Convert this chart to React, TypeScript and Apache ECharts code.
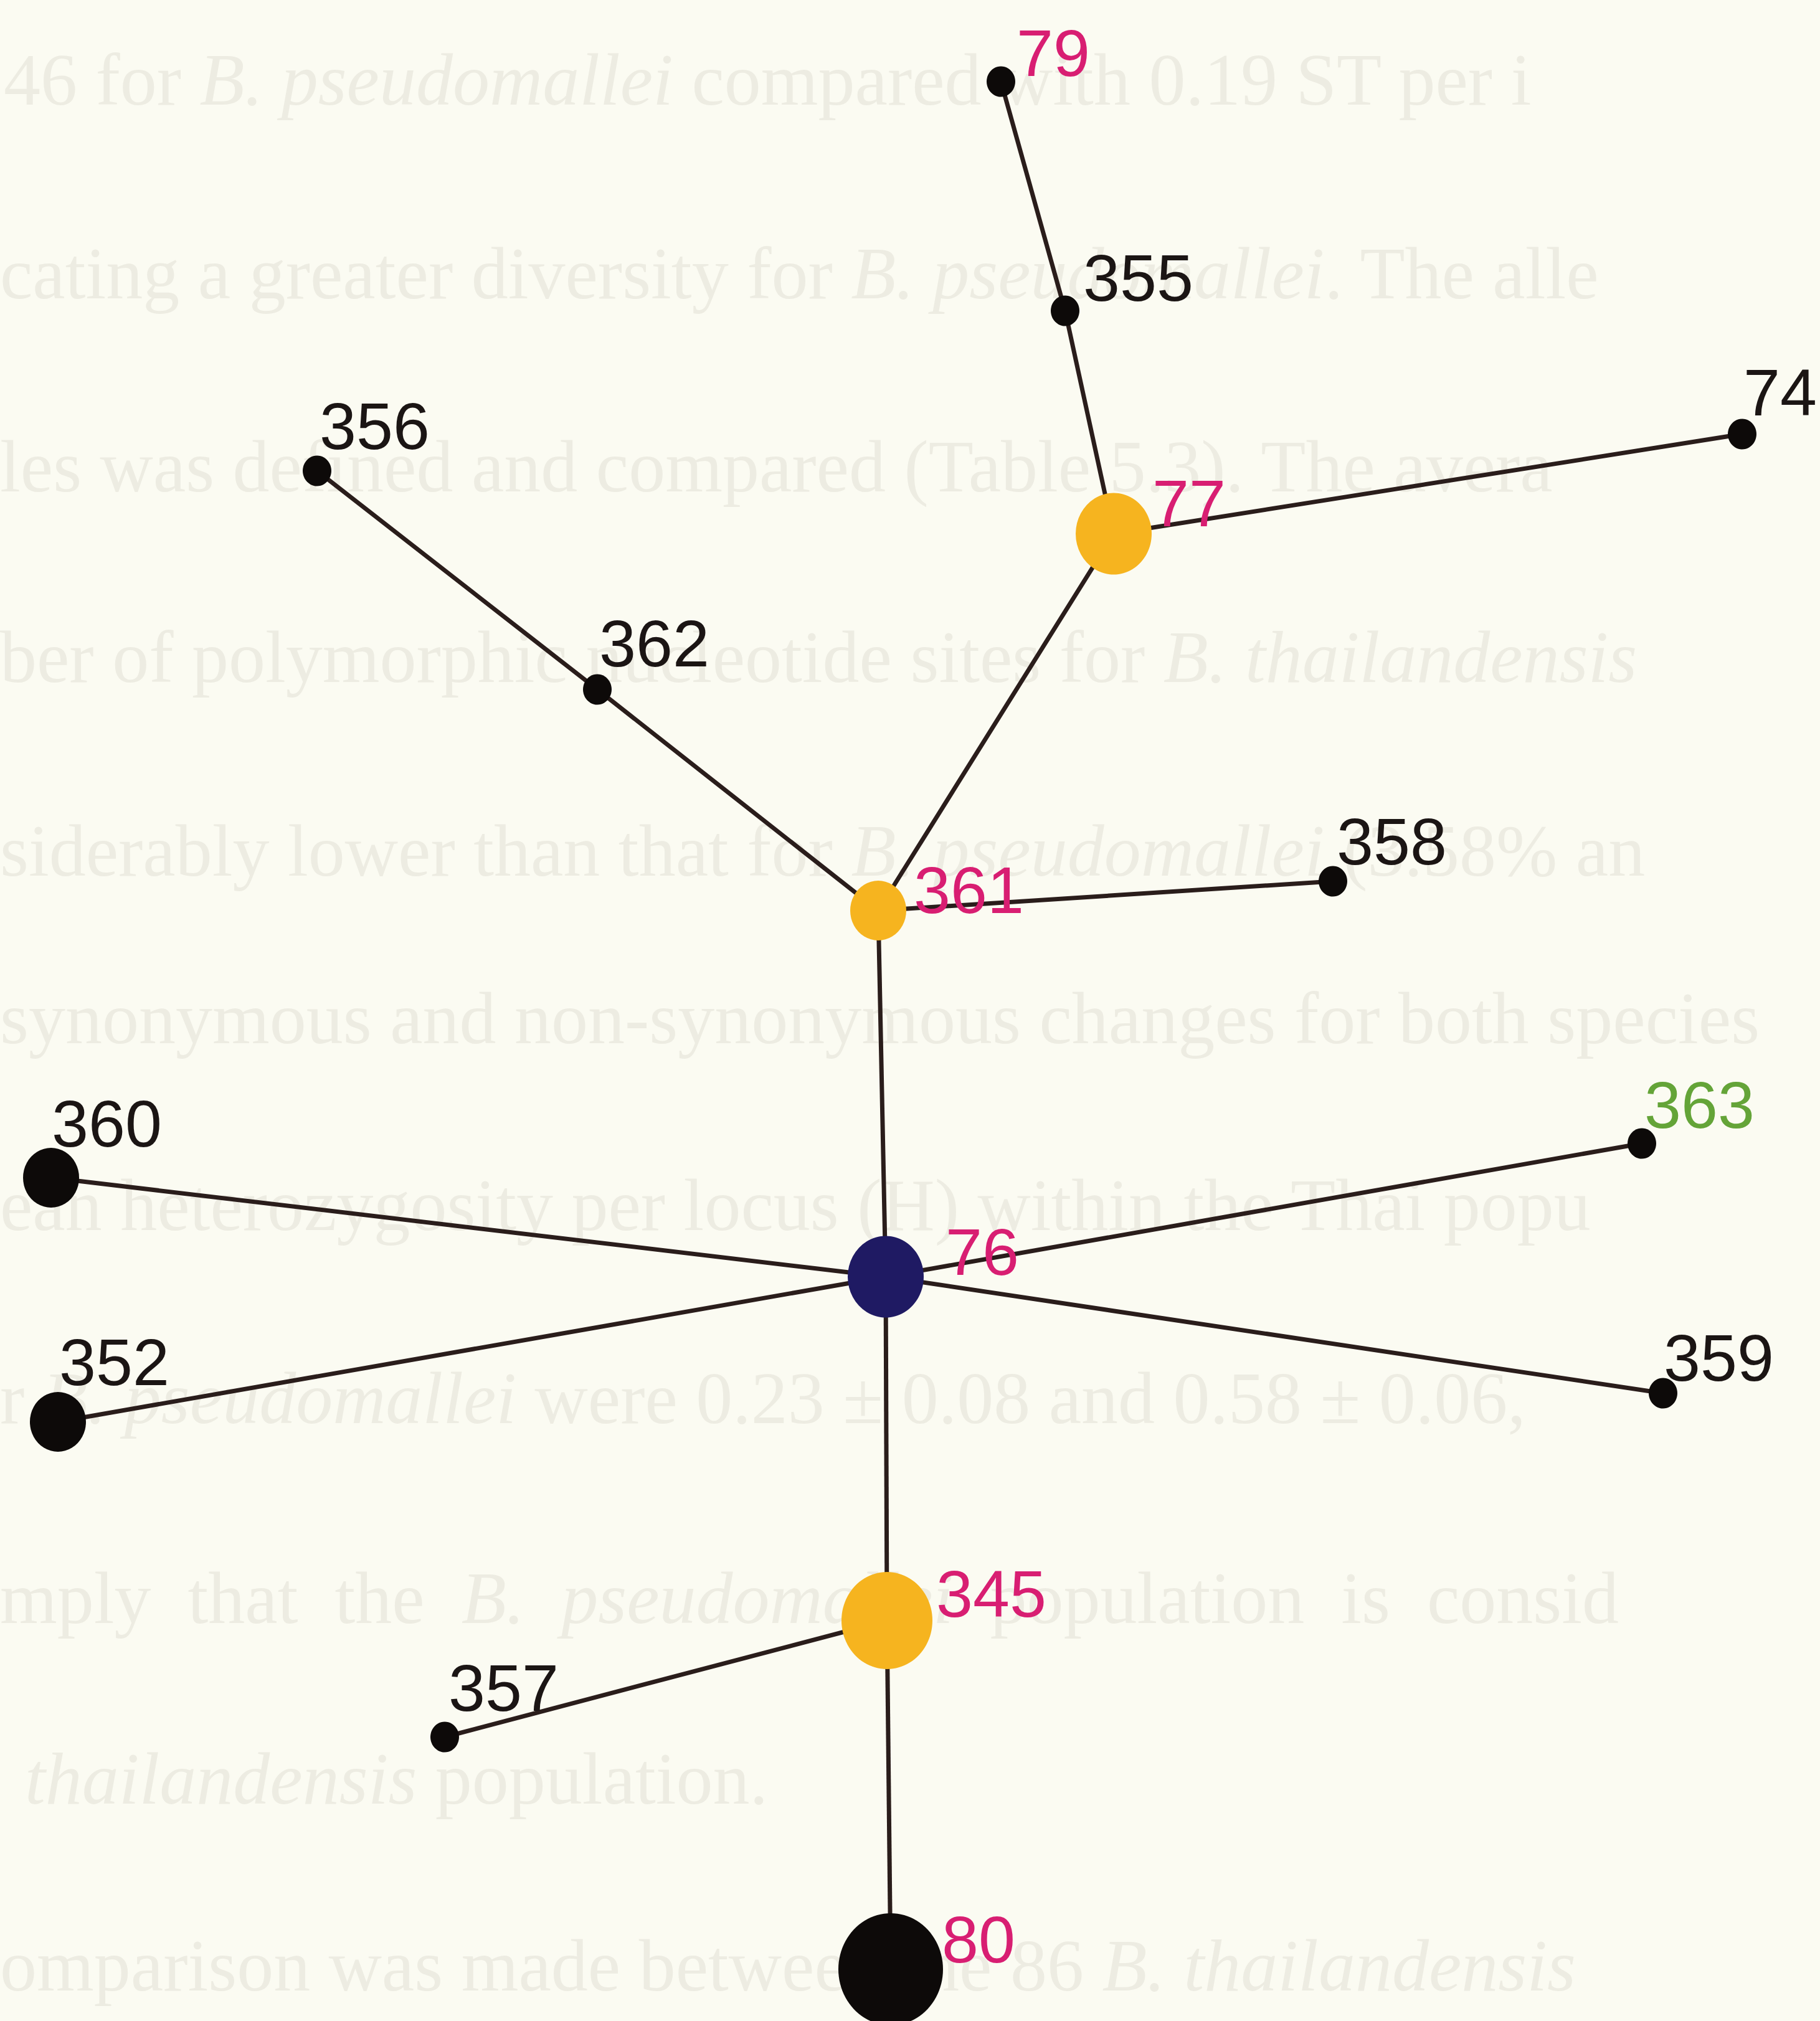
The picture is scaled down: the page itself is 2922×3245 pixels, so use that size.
import { useEffect, useRef } from "react";
import * as echarts from "echarts";

const W = 2922;
const H = 3245;

// ---- data ----
const nodeIds = ["79", "355", "74", "77", "356", "362", "358", "361", "360", "363", "76", "352", "359", "345", "357", "80"];
const nodeX = [1607, 1710, 2797, 1788, 509, 959, 2140, 1410, 82, 2636, 1422, 93, 2670, 1424, 714, 1430];
const nodeY = [131, 499, 697, 857, 756, 1107, 1415, 1462, 1891, 1836, 2050, 2283, 2237, 2602, 2789, 3162];
const nodeCount = [1, 1, 1, 3, 1, 1, 1, 2, 2, 1, 3, 2, 1, 4, 1, 5];
const nodeFill = ["black", "black", "black", "yellow", "black", "black", "black", "yellow", "black", "black", "navy", "black", "black", "yellow", "black", "black"];
const labelTone = ["magenta", "black", "black", "magenta", "black", "black", "black", "magenta", "black", "green", "magenta", "black", "black", "magenta", "black", "magenta"];
const edgeSource = ["79", "355", "77", "77", "356", "362", "361", "361", "76", "76", "76", "76", "76", "345", "345"];
const edgeTarget = ["355", "77", "74", "361", "362", "361", "358", "76", "360", "352", "363", "359", "345", "357", "80"];

// faint page text showing through (italic parts between asterisks)
const ghostLines = [
  "46 for *B. pseudomallei* compared with 0.19 ST per i",
  "cating a greater diversity for *B. pseudomallei*. The alle",
  "les was defined and compared (Table 5.3). The avera",
  "ber of polymorphic nucleotide sites for *B. thailandensis*",
  "siderably lower than that for *B. pseudomallei* (3.58% an",
  "synonymous and non-synonymous changes for both species",
  "ean heterozygosity per locus (H) within the Thai popu",
  "r *B. pseudomallei* were 0.23 ± 0.08 and 0.58 ± 0.06,",
  "mply  that  the  *B.  pseudomallei*  population  is  consid",
  "*thailandensis* population.",
  "omparison was made between the 86 *B. thailandensis*",
];
const ghostY = [128, 439, 749, 1055, 1366, 1635, 1935, 2245, 2566, 2856, 3156];
const ghostX = [6, 0, 0, 0, 0, 0, 0, 0, 0, 40, 0];

// ---- styles ----
const sizeByCount: Record<number, number> = { 1: 46, 2: 90, 3: 122, 4: 146, 5: 168 };
const fillColor: Record<string, string> = { black: "#0d0a09", yellow: "#f6b41f", navy: "#1f1a63" };
const labelColor: Record<string, string> = { magenta: "#d81e72", black: "#1b1514", green: "#64a438" };
// label offsets (ink left edge, ink vertical middle) relative to the node centre
const labelDX: Record<string, number> = {
  "79": 29, "355": 33, "74": 6, "77": 66, "356": 8, "362": 7, "358": 10, "361": 61,
  "360": 5, "363": 8, "76": 100, "352": 6, "359": 5, "345": 83, "357": 10, "80": 86,
};
const labelDY: Record<string, number> = {
  "79": -46, "355": -53, "74": -67, "77": -49, "356": -72, "362": -74, "358": -64, "361": -33,
  "360": -87, "363": -62, "76": -40, "352": -96, "359": -57, "345": -43, "357": -79, "80": -48,
};
const FONT = "'Liberation Sans', Arial, Helvetica, sans-serif";
const LABEL_SIZE = 106;
const GHOST_FONT = "'Liberation Serif', 'Times New Roman', serif";
const GHOST_SIZE = 118;
const GHOST_COLOR = "#edece2";

function toRich(s: string): string {
  return s
    .split("*")
    .map((seg, i) => (seg.length ? `{${i % 2 ? "i" : "n"}|${seg}}` : ""))
    .join("");
}

export default function App() {
  const ref = useRef<HTMLDivElement>(null);

  useEffect(() => {
    if (!ref.current) return;
    const chart = echarts.init(ref.current, null, { renderer: "svg" });

    const nodes = nodeIds.map((id, i) => {
      const w = sizeByCount[nodeCount[i]];
      const h = Math.round(w * 1.07);
      return {
        name: id,
        value: [nodeX[i], nodeY[i]],
        symbol: "circle",
        symbolSize: [w, h],
        itemStyle: { color: fillColor[nodeFill[i]] },
        label: {
          show: true,
          formatter: id,
          position: [w / 2 + labelDX[id] - 4, h / 2 + labelDY[id]],
          align: "left",
          verticalAlign: "middle",
          color: labelColor[labelTone[i]],
          fontSize: LABEL_SIZE,
          fontFamily: FONT,
        },
      };
    });

    const links = edgeSource.map((s, i) => ({ source: s, target: edgeTarget[i] }));

    const ghost = ghostLines.map((t, i) => ({
      type: "text",
      x: ghostX[i],
      y: ghostY[i],
      z: -10,
      silent: true,
      style: {
        text: toRich(t),
        verticalAlign: "middle",
        fill: GHOST_COLOR,
        fontSize: GHOST_SIZE,
        fontFamily: GHOST_FONT,
        rich: {
          n: { fill: GHOST_COLOR, fontSize: GHOST_SIZE, fontFamily: GHOST_FONT },
          i: { fill: GHOST_COLOR, fontSize: GHOST_SIZE, fontStyle: "italic", fontFamily: GHOST_FONT },
        },
      },
    }));

    chart.setOption({
      animation: false,
      backgroundColor: "#fbfbf2",
      graphic: { elements: ghost },
      grid: { left: 0, right: 0, top: 0, bottom: 0 },
      xAxis: { type: "value", min: 0, max: W, show: false },
      yAxis: { type: "value", min: 0, max: H, inverse: true, show: false },
      series: [
        {
          type: "graph",
          coordinateSystem: "cartesian2d",
          xAxisIndex: 0,
          yAxisIndex: 0,
          z: 5,
          silent: true,
          data: nodes,
          links,
          edgeSymbol: ["none", "none"],
          lineStyle: { color: "#2a1d1b", width: 7, opacity: 1, curveness: 0 },
          emphasis: { disabled: true },
        },
      ],
    });

    return () => chart.dispose();
  }, []);

  return <div ref={ref} style={{ position: "absolute", left: 0, top: 0, width: W, height: H }} />;
}
